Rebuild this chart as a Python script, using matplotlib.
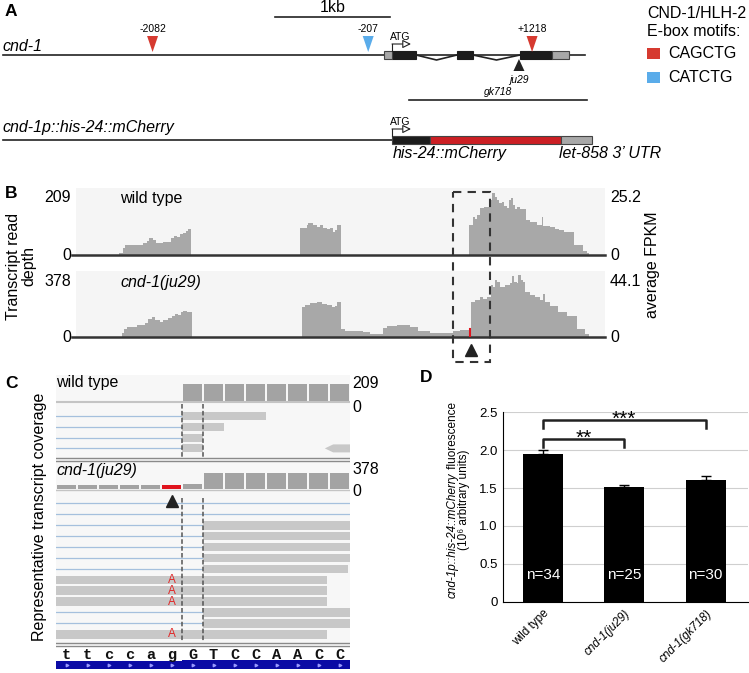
import matplotlib
matplotlib.use("Agg")
import matplotlib.pyplot as plt
from matplotlib.patches import Rectangle, Polygon
import numpy as np

plt.rcParams["font.family"] = ["Liberation Sans", "DejaVu Sans"]

W, H = 749, 673

# ---------------- panel A: cnd-1 locus, bp relative to ATG
utr5 = (-70, 0)
exons = [(0, 209), (565, 704), (1113, 1391)]
utr3 = (1391, 1540)
locus_span = (-3383, 1678)
ebox_pos = [-2082, -207, 1218]
ebox_seq = ["CAGCTG", "CATCTG", "CAGCTG"]
ju29_pos = 1104
gk718_span = (148, 1696)
reporter_parts = [(0, 330), (330, 1470), (1470, 1740)]

# ---------------- panel B: coverage (track position, read depth)
wt_ex1_x = [43, 47, 49, 67, 71, 73, 77, 80, 87, 95, 98, 101, 104, 107, 110, 112, 115]
wt_ex1_y = [6, 22, 31, 38, 44, 53, 48, 37, 41, 53, 60, 57, 66, 70, 76, 81]
wt_ex2_x = [224, 231, 232, 237, 241, 244, 247, 251, 254, 257, 259, 261, 265]
wt_ex2_y = [85, 94, 100, 94, 88, 94, 85, 80, 84, 72, 77, 94]
wt_ex3_x = [393, 397, 399, 401, 404, 408, 414, 416, 419, 421, 423, 426, 428, 431, 433,
            435, 437, 439, 441, 444, 447, 450, 454, 461, 466, 467, 474, 479, 483, 488,
            498, 507, 511, 513]
wt_ex3_y = [94, 118, 113, 124, 147, 150, 171, 192, 182, 171, 161, 166, 153, 147, 171,
            177, 155, 145, 150, 143, 145, 108, 102, 94, 118, 92, 87, 81, 78, 71,
            31, 13, 7]
mut_ex1_x = [46, 48, 51, 61, 69, 72, 76, 79, 84, 87, 92, 96, 99, 102, 105, 107, 111, 116]
mut_ex1_y = [24, 47, 59, 67, 82, 102, 112, 98, 86, 98, 106, 121, 131, 125, 145, 151, 145]
mut_ex2_x = [226, 229, 234, 241, 246, 251, 256, 259, 261, 265, 269, 287, 294, 307, 311,
             321, 334, 342, 354, 377, 384, 395, 399, 404, 407, 411, 415, 417, 419, 421,
             424, 429, 434, 436, 438, 441, 442, 445, 447, 449, 454, 459, 464, 467, 469,
             474, 482, 491, 501, 509, 513]
mut_ex2_y = [170, 184, 196, 200, 190, 184, 170, 180, 200, 47, 33, 27, 20, 53, 62,
             67, 59, 33, 24, 33, 39, 200, 210, 229, 219, 229, 298, 288, 327, 317,
             288, 298, 308, 347, 317, 308, 357, 327, 317, 259, 239, 229, 210, 249, 200,
             180, 141, 121, 47, 20]
mut_snp_pos, mut_snp_depth = 394, 45
wt_max, mut_max = 209, 378
wt_fpkm, mut_fpkm = 25.2, 44.1

# ---------------- panel C: reads around the splice acceptor
ref_seq = "ttccagGTCCAACC"
wt_cov_c = [0, 0, 0, 0, 0, 0, 135, 135, 135, 135, 135, 135, 135, 135]
mut_cov_c = [60, 60, 60, 60, 60, 60, 83, 245, 245, 245, 245, 245, 245, 245]
mismatch_base = 5
wt_read_gap_end = [6, 6, 6, 6]
wt_read_blocks = [(6, 10), (6, 8), (6, 7), (6, 7)]
mut_read_gap_end = [14, 14, 7, 7, 7, 7, 7, 0, 0, 0, 7, 7, 0]
mut_read_blocks = [None, None, (7, 14), (7, 14), (7, 14), (7, 14), (7, 13.9),
                   (0, 12.9), (0, 12.9), (0, 12.9), (7, 14), (7, 14), (0, 12.9)]
mut_read_alt = [False] * 7 + [True, True, True, False, False, True]

# ---------------- panel D
genotypes = ["wild type", "cnd-1(ju29)", "cnd-1(gk718)"]
fluor_mean = [1.95, 1.51, 1.61]
fluor_sem = [0.05, 0.03, 0.05]
n_worms = [34, 25, 30]
signif = [(0, 1, 2.14, "**"), (0, 2, 2.39, "***")]

fig = plt.figure(figsize=(W / 100, H / 100), dpi=100)


def px_axes(left, top, right, bottom, **kw):
    return fig.add_axes([left / W, 1 - bottom / H, (right - left) / W, (bottom - top) / H], **kw)


FS = 11.5
DARK = "#222222"

# ======================= A
scale = 0.115  # px per bp
axA = px_axes(0, 0, W, 165)
axA.set_xlim(-392 / scale, (W - 392) / scale)
axA.set_ylim(165, 0)
axA.axis("off")

axA.plot(locus_span, [55, 55], color=DARK, lw=1.2, zorder=1)
for (s0, e0), (s1, e1) in zip(exons[:-1], exons[1:]):
    axA.plot([e0, (e0 + s1) / 2, s1], [55, 60, 55], color=DARK, lw=1.2, zorder=1)
for s, e in exons:
    axA.add_patch(Rectangle((s, 51), e - s, 8, fc="#1c1c1c", ec="#1c1c1c", lw=0.8, zorder=2))
for s, e in (utr5, utr3):
    axA.add_patch(Rectangle((s, 51), e - s, 8, fc="#a8a8a8", ec="#444444", lw=0.8, zorder=2))

ebox_color = {"CAGCTG": "#d63a30", "CATCTG": "#5aacea"}
hw = 5.5 / scale
for p, sq in zip(ebox_pos, ebox_seq):
    axA.add_patch(Polygon([(p - hw, 36), (p + hw, 36), (p, 52)], closed=True,
                          fc=ebox_color[sq], ec="none", zorder=3))
    axA.text(p, 29, f"{p:+d}" if p > 0 else f"{p}", fontsize=7.5, ha="center", va="center")

axA.add_patch(Polygon([(ju29_pos - hw, 71), (ju29_pos + hw, 71), (ju29_pos, 59)],
                      closed=True, fc=DARK, ec="none", zorder=3))
axA.text(ju29_pos, 80, "ju29", style="italic", fontsize=7.5, ha="center", va="center")
axA.plot(gk718_span, [100, 100], color=DARK, lw=1.2)
axA.text(sum(gk718_span) / 2, 92, "gk718", style="italic", fontsize=7.5, ha="center", va="center")


def draw_atg(ybox):
    ya = ybox - 7
    axA.plot([0, 0], [ybox, ya], color=DARK, lw=0.8)
    axA.annotate("", xy=(165, ya), xytext=(0, ya),
                 arrowprops=dict(arrowstyle="-|>,head_length=0.5,head_width=0.25",
                                 fc="white", ec=DARK, lw=0.8, shrinkA=0, shrinkB=0))
    axA.text(75, ya - 7, "ATG", fontsize=7.5, ha="center", va="center")


draw_atg(51)
axA.plot([-1020, -20], [17, 17], color=DARK, lw=1.2)
axA.text(-520, 8, "1kb", fontsize=FS, ha="center", va="center")
axA.text(locus_span[0], 51, "cnd-1", style="italic", fontsize=FS, va="baseline")
axA.text(locus_span[0], 132, "cnd-1p::his-24::mCherry", style="italic", fontsize=FS, va="baseline")

axA.plot([locus_span[0], 0], [140, 140], color=DARK, lw=1.2, zorder=1)
for (s, e), c in zip(reporter_parts, ["#1c1c1c", "#cc1f24", "#a8a8a8"]):
    axA.add_patch(Rectangle((s, 136), e - s, 8, fc=c, ec="#444444", lw=0.8, zorder=2))
draw_atg(136)
axA.text(reporter_parts[0][0] + 10, 158, "his-24::mCherry", style="italic", fontsize=FS, va="baseline")
axA.text(reporter_parts[2][0] - 20, 158, "let-858 3\u2019 UTR", style="italic", fontsize=FS, va="baseline")

# ======================= B
def coverage_axes(top, bottom, ymax):
    ax = px_axes(76, top, 605, bottom)
    ax.set_xlim(0, 529)
    ax.set_ylim(0, ymax)
    ax.set_facecolor("#f5f5f5")
    for sp in ax.spines.values():
        sp.set_visible(False)
    ax.set_xticks([])
    ax.set_yticks([])
    ax.plot([-0.008, 1], [0, 0], transform=ax.transAxes, clip_on=False, color="#333333", lw=1.8)
    return ax


def fill_steps(ax, xs, ys):
    ax.fill_between(xs, list(ys) + [ys[-1]], step="post", color="#a8a8a8", lw=0)


axB1 = coverage_axes(188, 255, wt_max)
for xs, ys in [(wt_ex1_x, wt_ex1_y), (wt_ex2_x, wt_ex2_y), (wt_ex3_x, wt_ex3_y)]:
    fill_steps(axB1, xs, ys)
axB2 = coverage_axes(271, 337, mut_max)
for xs, ys in [(mut_ex1_x, mut_ex1_y), (mut_ex2_x, mut_ex2_y)]:
    fill_steps(axB2, xs, ys)
axB2.plot([mut_snp_pos, mut_snp_pos], [0, mut_snp_depth], color="#e0141e", lw=1.5)

# ======================= C
axC = px_axes(56, 372, 350, 672)
axC.set_xlim(0, 14)
axC.set_ylim(672, 372)
axC.axis("off")
axC.add_patch(Rectangle((0, 375), 14, 270, fc="#f7f7f7", ec="none", zorder=0))

base_x = np.arange(len(ref_seq))
wt_h = np.array(wt_cov_c) / wt_max * 26
axC.bar(base_x + 0.5, -wt_h, bottom=401, width=0.94, color="#a3a3a3", zorder=2)
axC.plot([0, 14], [402, 402], color="#c4c4c4", lw=1.5, zorder=1)

mut_h = np.array(mut_cov_c) / mut_max * 25
mut_colors = ["#e0141e" if i == mismatch_base else "#a3a3a3" for i in base_x]
axC.bar(base_x + 0.5, -mut_h, bottom=489, width=0.94, color=mut_colors, zorder=2)
axC.plot([0, 14], [490, 490], color="#c4c4c4", lw=1.0, zorder=1)

READ_FC = "#c8c8c8"
LINE_C = "#a5c0dd"
wt_rows = 416 + 10.8 * np.arange(len(wt_read_blocks))
for y, ge, (bs, be) in zip(wt_rows, wt_read_gap_end, wt_read_blocks):
    axC.plot([0, ge], [y, y], color=LINE_C, lw=0.9, zorder=1)
    axC.barh(y, be - bs, left=bs, height=8, color=READ_FC, zorder=2)
y = wt_rows[-1]
axC.add_patch(Polygon([(12.8, y), (13.2, y - 4), (14, y - 4), (14, y + 4), (13.2, y + 4)],
                      closed=True, fc=READ_FC, ec="none", zorder=2))

mut_rows = 503.5 + 10.9 * np.arange(len(mut_read_blocks))
for y, ge, blk, alt in zip(mut_rows, mut_read_gap_end, mut_read_blocks, mut_read_alt):
    if ge > 0:
        axC.plot([0, ge], [y, y], color=LINE_C, lw=0.9, zorder=1)
    if blk is not None:
        axC.barh(y, blk[1] - blk[0], left=blk[0], height=8.5, color=READ_FC, zorder=2)
    if alt:
        axC.text(mismatch_base + 0.5, y, "A", color="#e02828", fontsize=8.5,
                 ha="center", va="center", zorder=3)

for xb in (6, 7):
    axC.plot([xb, xb], [404, 457], color="#555555", lw=1.1, ls=(0, (3, 1.5)), zorder=4)
    axC.plot([xb, xb], [498, 641], color="#555555", lw=1.1, ls=(0, (3, 1.5)), zorder=4)

for yy in (458, 461, 643, 646):
    axC.plot([0, 14], [yy, yy], color="#8a8a8a", lw=1.0, zorder=3)
axC.plot(mismatch_base + 0.5, 501.5, marker="^", ms=9, color=DARK, zorder=5)

for i, ch in enumerate(ref_seq):
    axC.text(i + 0.5, 655, ch, fontsize=11, family="Liberation Mono", weight="bold",
             ha="center", va="center", color="#111111")
axC.add_patch(Rectangle((0, 661), 6, 8, fc="#0b0ba5", ec="none"))
axC.add_patch(Rectangle((6, 660), 8, 9, fc="#0b0ba5", ec="none"))
axC.scatter(base_x + 0.5, [665] * len(base_x), marker=">", s=3, color="#9a9aff", zorder=3)

# ======================= D
axD = px_axes(503, 412, 748, 602)
xpos = np.arange(len(genotypes))
axD.bar(xpos, fluor_mean, width=0.49, color="black", zorder=3)
axD.errorbar(xpos, fluor_mean, yerr=[[0] * 3, fluor_sem], fmt="none", ecolor="black",
             elinewidth=1, capsize=3.5, capthick=1, zorder=4)
axD.set_xlim(-0.49, 2.52)
axD.set_ylim(0, 2.5)
yt = [0, 0.5, 1.0, 1.5, 2.0, 2.5]
axD.set_yticks(yt)
axD.set_yticklabels(["0", "0.5", "1.0", "1.5", "2.0", "2.5"], fontsize=9.5)
axD.yaxis.grid(True, color="#cfcfcf", lw=0.8, zorder=0)
axD.set_axisbelow(True)
axD.spines["top"].set_visible(False)
axD.spines["right"].set_visible(False)
axD.spines["left"].set_color("black")
axD.spines["bottom"].set_color("black")
axD.tick_params(length=0, pad=4)
axD.set_xticks(xpos)
axD.set_xticklabels(genotypes, rotation=45, ha="right", rotation_mode="anchor", fontsize=8.5)
for lab in axD.get_xticklabels()[1:]:
    lab.set_style("italic")
for x, n in zip(xpos, n_worms):
    axD.text(x, 0.35, f"n={n}", color="white", fontsize=11, ha="center", va="center", zorder=5)
for a, b, yb, star in signif:
    axD.plot([a, a, b, b], [yb - 0.1, yb, yb, yb - 0.1], color="#222222", lw=1.8, clip_on=False)
    axD.text((a + b) / 2, yb + 0.02, star, fontsize=15, ha="center", va="center")

# ======================= overlay text
ov = fig.add_axes([0, 0, 1, 1], zorder=10)
ov.set_xlim(0, W)
ov.set_ylim(H, 0)
ov.axis("off")

for lab, (x, y) in zip("ABCD", [(5, 12), (5, 193), (5, 383), (420, 378)]):
    ov.text(x, y, lab, fontsize=12.5, weight="bold", ha="left", va="center")

ov.text(647, 13, "CND-1/HLH-2", fontsize=FS, va="center")
ov.text(647, 31, "E-box motifs:", fontsize=FS, va="center")
for yy, sq in [(53, "CAGCTG"), (77, "CATCTG")]:
    ov.add_patch(Rectangle((647, yy - 5), 13, 11, fc=ebox_color[sq], ec="none"))
    ov.text(668, yy, sq, fontsize=FS, va="center")

ov.text(71, 198, str(wt_max), fontsize=FS, ha="right", va="center")
ov.text(71, 255, "0", fontsize=FS, ha="right", va="center")
ov.text(71, 282, str(mut_max), fontsize=FS, ha="right", va="center")
ov.text(71, 338, "0", fontsize=FS, ha="right", va="center")
ov.text(610, 198, f"{wt_fpkm}", fontsize=FS, va="center")
ov.text(610, 255, "0", fontsize=FS, va="center")
ov.text(610, 282, f"{mut_fpkm}", fontsize=FS, va="center")
ov.text(610, 338, "0", fontsize=FS, va="center")
ov.text(120, 198, "wild type", fontsize=FS, va="center")
ov.text(120, 282, "cnd-1(ju29)", style="italic", fontsize=FS, va="center")
ov.text(21, 266, "Transcript read\ndepth", rotation=90, fontsize=FS, ha="center",
        va="center", multialignment="center", linespacing=1.0)
ov.text(652, 265, "average FPKM", rotation=90, fontsize=FS, ha="center", va="center")
ov.add_patch(Rectangle((453, 192), 37, 170, fill=False, ec="#333333", lw=1.5, ls=(0, (4, 3))))
ov.plot(471, 350, marker="^", ms=9, color=DARK)

ov.text(56, 383, "wild type", fontsize=FS, va="center")
ov.text(56, 470, "cnd-1(ju29)", style="italic", fontsize=FS, va="center")
ov.text(352, 383, str(wt_max), fontsize=FS, va="center")
ov.text(352, 407, "0", fontsize=FS, va="center")
ov.text(352, 470, str(mut_max), fontsize=FS, va="center")
ov.text(352, 492, "0", fontsize=FS, va="center")
ov.text(40, 517, "Representative transcript coverage", rotation=90, fontsize=FS,
        ha="center", va="center")

# D y label with mixed italic
lab_cy = 500
t_it = ov.text(453, lab_cy, "cnd-1p::his-24::mCherry", rotation=90, style="italic",
               fontsize=8.5, ha="center", va="bottom")
t_rm = ov.text(453, lab_cy, " fluorescence", rotation=90, fontsize=8.5, ha="center", va="bottom")
rend = fig.canvas.get_renderer()
h_it = t_it.get_window_extent(rend).height
h_rm = t_rm.get_window_extent(rend).height
y0 = lab_cy + (h_it + h_rm) / 2
t_it.set_y(y0)
t_rm.set_y(y0 - h_it)
ov.text(464, lab_cy, "(10\u2076 arbitrary units)", rotation=90, fontsize=8.5, ha="center", va="center")

fig.savefig("out.png", dpi=100)
